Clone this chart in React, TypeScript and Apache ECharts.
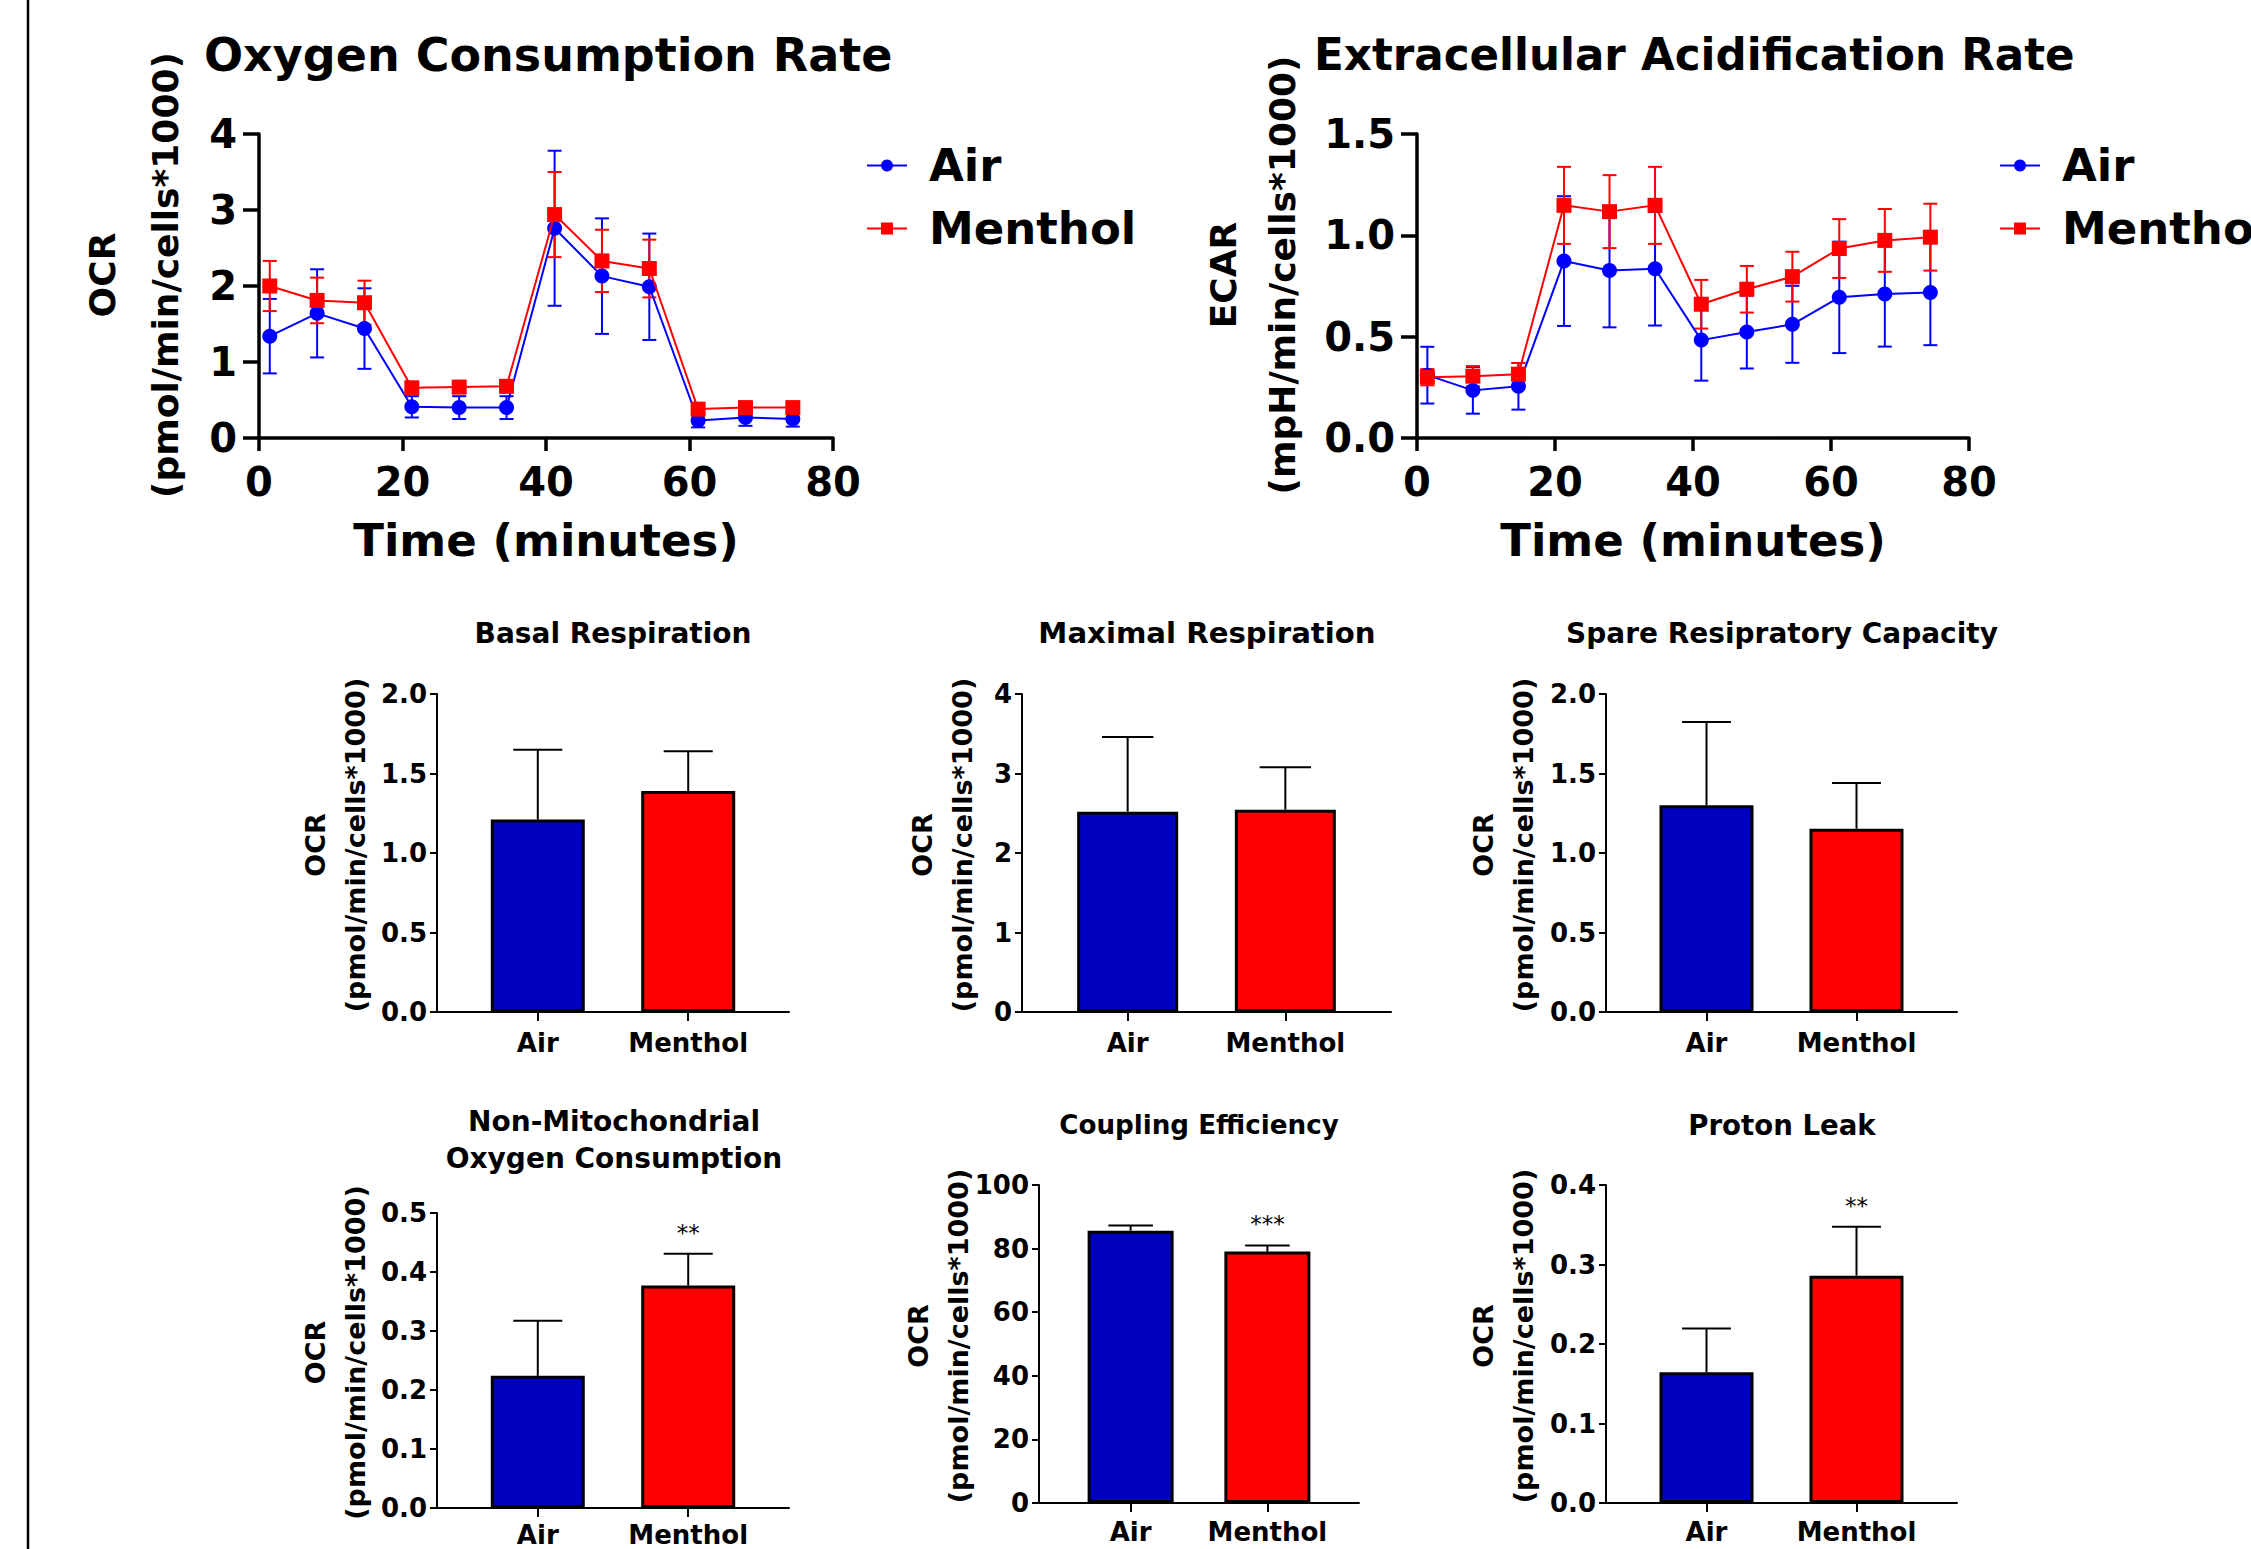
import React, { useEffect, useRef } from 'react';
import * as echarts from 'echarts';

// ---------- data ----------
const timeMin = [1.5, 8.1, 14.7, 21.3, 27.9, 34.5, 41.2, 47.8, 54.4, 61.2, 67.8, 74.4];

const ocrAir = [1.34, 1.64, 1.44, 0.41, 0.4, 0.4, 2.76, 2.13, 1.99, 0.23, 0.27, 0.25];
const ocrAirSd = [0.49, 0.58, 0.53, 0.14, 0.15, 0.15, 1.02, 0.76, 0.7, 0.09, 0.11, 0.1];
const ocrMenthol = [2.0, 1.81, 1.78, 0.66, 0.67, 0.68, 2.94, 2.33, 2.23, 0.38, 0.4, 0.4];
const ocrMentholSd = [0.33, 0.3, 0.29, 0.08, 0.08, 0.08, 0.56, 0.41, 0.38, 0.05, 0.05, 0.05];

const ecarAir = [0.31, 0.235, 0.255, 0.873, 0.826, 0.835, 0.483, 0.523, 0.561, 0.694, 0.711, 0.718];
const ecarAirSd = [0.14, 0.115, 0.115, 0.32, 0.28, 0.28, 0.2, 0.18, 0.19, 0.275, 0.26, 0.26];
const ecarMenthol = [0.3, 0.305, 0.315, 1.148, 1.117, 1.148, 0.66, 0.734, 0.796, 0.935, 0.975, 0.991];
const ecarMentholSd = [0.04, 0.05, 0.055, 0.19, 0.18, 0.19, 0.12, 0.115, 0.123, 0.145, 0.155, 0.165];

const barCategories = ['Air', 'Menthol'];

const basalMean = [1.21, 1.39];
const basalErr = [0.44, 0.25];
const maximalMean = [2.52, 2.545];
const maximalErr = [0.94, 0.535];
const spareMean = [1.3, 1.153];
const spareErr = [0.524, 0.287];
const nonMitoMean = [0.224, 0.377];
const nonMitoErr = [0.0935, 0.054];
const couplingMean = [85.65, 79.05];
const couplingErr = [1.65, 1.95];
const protonMean = [0.1646, 0.286];
const protonErr = [0.055, 0.0616];

const nonMitoSig = ['', '**'];
const couplingSig = ['', '***'];
const protonSig = ['', '**'];

// ---------- styles ----------
const FONT = 'DejaVu Sans';
const BLUE = '#0000ff';
const RED = '#ff0000';
const BAR_BLUE = '#0000c0';
const BAR_COLORS = [BAR_BLUE, RED];

type Panel = {
  title: string;
  titleX: number;
  titleY: number;
  titleSize: number;
  mean: number[];
  err: number[];
  sig: string[];
  yMax: number;
  yInterval: number;
  decimals: number;
  grid: { left: number; top: number; width: number; height: number };
  nameGap: number;
  barWidth: number;
  labelMargin: number;
};

const panels: Panel[] = [
  {
    title: 'Basal Respiration', titleX: 613, titleY: 633, titleSize: 28,
    mean: basalMean, err: basalErr, sig: ['', ''], yMax: 2, yInterval: 0.5, decimals: 1,
    grid: { left: 437, top: 694, width: 352, height: 318 }, nameGap: 62, barWidth: 94, labelMargin: 18,
  },
  {
    title: 'Maximal Respiration', titleX: 1207, titleY: 633, titleSize: 29.2,
    mean: maximalMean, err: maximalErr, sig: ['', ''], yMax: 4, yInterval: 1, decimals: 0,
    grid: { left: 1022, top: 694, width: 369, height: 318 }, nameGap: 40, barWidth: 101, labelMargin: 18,
  },
  {
    title: 'Spare Resipratory Capacity', titleX: 1782, titleY: 633, titleSize: 28,
    mean: spareMean, err: spareErr, sig: ['', ''], yMax: 2, yInterval: 0.5, decimals: 1,
    grid: { left: 1606, top: 694, width: 351, height: 318 }, nameGap: 63, barWidth: 94, labelMargin: 18,
  },
  {
    title: 'Non-Mitochondrial\nOxygen Consumption', titleX: 614, titleY: 1140, titleSize: 28,
    mean: nonMitoMean, err: nonMitoErr, sig: nonMitoSig, yMax: 0.5, yInterval: 0.1, decimals: 1,
    grid: { left: 437, top: 1213, width: 352, height: 295 }, nameGap: 62, barWidth: 94, labelMargin: 14,
  },
  {
    title: 'Coupling Efficiency', titleX: 1199, titleY: 1125, titleSize: 26.2,
    mean: couplingMean, err: couplingErr, sig: couplingSig, yMax: 100, yInterval: 20, decimals: 0,
    grid: { left: 1039, top: 1185, width: 320, height: 318 }, nameGap: 61, barWidth: 86, labelMargin: 16,
  },
  {
    title: 'Proton Leak', titleX: 1782, titleY: 1125, titleSize: 27.6,
    mean: protonMean, err: protonErr, sig: protonSig, yMax: 0.4, yInterval: 0.1, decimals: 1,
    grid: { left: 1606, top: 1185, width: 351, height: 318 }, nameGap: 63, barWidth: 94, labelMargin: 16,
  },
];

function symErrRender(color: string, cap: number) {
  return (params: any, api: any) => {
    const x = api.value(0);
    const y = api.value(1);
    const e = api.value(2);
    const t = api.coord([x, y + e]);
    const b = api.coord([x, y - e]);
    const st = { stroke: color, lineWidth: 2 };
    return {
      type: 'group',
      children: [
        { type: 'line', shape: { x1: t[0], y1: t[1], x2: b[0], y2: b[1] }, style: st },
        { type: 'line', shape: { x1: t[0] - cap, y1: t[1], x2: t[0] + cap, y2: t[1] }, style: st },
        { type: 'line', shape: { x1: b[0] - cap, y1: b[1], x2: b[0] + cap, y2: b[1] }, style: st },
      ],
    };
  };
}

function barErrRender(cap: number, sig: string[]) {
  return (params: any, api: any) => {
    const x = api.value(0);
    const y = api.value(1);
    const e = api.value(2);
    const base = api.coord([x, y]);
    const t = api.coord([x, y + e]);
    const st = { stroke: '#000', lineWidth: 2 };
    const children: any[] = [
      { type: 'line', shape: { x1: t[0], y1: base[1], x2: t[0], y2: t[1] }, style: st },
      { type: 'line', shape: { x1: t[0] - cap, y1: t[1], x2: t[0] + cap, y2: t[1] }, style: st },
    ];
    const s = sig[params.dataIndex];
    if (s) {
      children.push({
        type: 'text',
        x: t[0],
        y: t[1] - 21,
        style: {
          text: s, fill: '#000', fontSize: 23, fontFamily: FONT,
          align: 'center', verticalAlign: 'middle', textAlign: 'center', textVerticalAlign: 'middle',
        },
      });
    }
    return { type: 'group', children };
  };
}

function buildOption() {
  const grids: any[] = [];
  const xAxes: any[] = [];
  const yAxes: any[] = [];
  const series: any[] = [];
  const graphics: any[] = [];

  // ---------- top time-course charts ----------
  const topAxisLine = { show: true, lineStyle: { color: '#000', width: 3.5 } };
  const topDefs = [
    {
      grid: { left: 259, top: 134, width: 574, height: 304 },
      yMax: 4, yInt: 1, dec: 0, yName: 'OCR\n(pmol/min/cells*1000)', yGap: 62, yLineH: 63,
      air: ocrAir, airSd: ocrAirSd, men: ocrMenthol, menSd: ocrMentholSd,
      title: 'Oxygen Consumption Rate', titleX: 204, titleSize: 46,
    },
    {
      grid: { left: 1417, top: 134, width: 552, height: 304 },
      yMax: 1.5, yInt: 0.5, dec: 1, yName: 'ECAR\n(mpH/min/cells*1000)', yGap: 105, yLineH: 59,
      air: ecarAir, airSd: ecarAirSd, men: ecarMenthol, menSd: ecarMentholSd,
      title: 'Extracellular Acidification Rate', titleX: 1314, titleSize: 43.6,
    },
  ];

  topDefs.forEach((d, i) => {
    grids.push({ ...d.grid, containLabel: false });
    xAxes.push({
      type: 'value', gridIndex: i, min: 0, max: 80, interval: 20,
      axisLine: topAxisLine,
      axisTick: { show: true, length: 13, lineStyle: { color: '#000', width: 3.5 } },
      axisLabel: { margin: 24, fontSize: 40, fontWeight: 'bold', fontFamily: FONT, color: '#000' },
      splitLine: { show: false },
      name: 'Time (minutes)', nameLocation: 'middle', nameGap: 80, nameMoveOverlap: false,
      nameTextStyle: { fontSize: 45, fontWeight: 'bold', fontFamily: FONT, color: '#000' },
    });
    yAxes.push({
      type: 'value', gridIndex: i, min: 0, max: d.yMax, interval: d.yInt,
      axisLine: { ...topAxisLine, onZero: false },
      axisTick: { show: true, length: 16, lineStyle: { color: '#000', width: 3.5 } },
      axisLabel: {
        margin: 22, fontSize: 40, fontWeight: 'bold', fontFamily: FONT, color: '#000',
        formatter: (v: number) => v.toFixed(d.dec),
      },
      splitLine: { show: false },
      name: d.yName, nameLocation: 'middle', nameGap: d.yGap, nameRotate: 90, nameMoveOverlap: false,
      nameTextStyle: {
        fontSize: 36, fontWeight: 'bold', fontFamily: FONT, color: '#000', lineHeight: d.yLineH,
        padding: [0, 0, 0, 22],
      },
    });
    const pairs = (vals: number[], sd: number[]) => timeMin.map((t, k) => [t, vals[k], sd[k]]);
    series.push({
      type: 'custom', name: 'Air SD ' + i, xAxisIndex: i, yAxisIndex: i, z: 2,
      renderItem: symErrRender(BLUE, 7), encode: { x: 0, y: 1 },
      data: pairs(d.air, d.airSd), silent: true,
    });
    series.push({
      type: 'custom', name: 'Menthol SD ' + i, xAxisIndex: i, yAxisIndex: i, z: 2,
      renderItem: symErrRender(RED, 7), encode: { x: 0, y: 1 },
      data: pairs(d.men, d.menSd), silent: true,
    });
    series.push({
      type: 'line', name: 'Air', xAxisIndex: i, yAxisIndex: i, z: 3,
      data: timeMin.map((t, k) => [t, d.air[k]]),
      symbol: 'circle', symbolSize: 15,
      lineStyle: { color: BLUE, width: 2 }, itemStyle: { color: BLUE },
    });
    series.push({
      type: 'line', name: 'Menthol', xAxisIndex: i, yAxisIndex: i, z: 4,
      data: timeMin.map((t, k) => [t, d.men[k]]),
      symbol: 'rect', symbolSize: 15,
      lineStyle: { color: RED, width: 2 }, itemStyle: { color: RED },
    });
    graphics.push({
      type: 'text', x: d.titleX, y: 55,
      style: {
        text: d.title, fill: '#000', fontSize: d.titleSize, fontWeight: 'bold', fontFamily: FONT,
        align: 'left', verticalAlign: 'middle', textAlign: 'left', textVerticalAlign: 'middle',
      },
    });
  });

  // ---------- bar panels ----------
  panels.forEach((p, j) => {
    const gi = j + 2;
    const spacing = p.grid.width / 2.34;
    grids.push({ ...p.grid, containLabel: false });
    xAxes.push({
      type: 'value', gridIndex: gi, min: 0.33, max: 2.67,
      axisLine: { show: true, onZero: false, lineStyle: { color: '#000', width: 2 } },
      axisTick: { show: true, length: 9, customValues: [1, 2], lineStyle: { color: '#000', width: 2 } },
      axisLabel: {
        show: true, customValues: [1, 2], margin: p.labelMargin,
        fontSize: 26, fontWeight: 'bold', fontFamily: FONT, color: '#000',
        formatter: (v: number) => barCategories[Math.round(v) - 1] || '',
      },
      splitLine: { show: false },
    });
    yAxes.push({
      type: 'value', gridIndex: gi, min: 0, max: p.yMax, interval: p.yInterval,
      axisLine: { show: true, onZero: false, lineStyle: { color: '#000', width: 2 } },
      axisTick: { show: true, length: 7, lineStyle: { color: '#000', width: 2 } },
      axisLabel: {
        margin: 10, fontSize: 26, fontWeight: 'bold', fontFamily: FONT, color: '#000',
        formatter: (v: number) => v.toFixed(p.decimals),
      },
      splitLine: { show: false },
      name: 'OCR\n(pmol/min/cells*1000)', nameLocation: 'middle', nameGap: p.nameGap, nameRotate: 90,
      nameMoveOverlap: false,
      nameTextStyle: {
        fontSize: 27, fontWeight: 'bold', fontFamily: FONT, color: '#000', lineHeight: 40,
        padding: [0, 0, 0, 16],
      },
    });
    series.push({
      type: 'bar', name: p.title + ' bars', xAxisIndex: gi, yAxisIndex: gi, z: 2,
      barWidth: p.barWidth,
      itemStyle: { borderColor: '#000', borderWidth: 3 },
      data: p.mean.map((m, k) => ({ value: [k + 1, m], itemStyle: { color: BAR_COLORS[k] } })),
    });
    series.push({
      type: 'custom', name: p.title + ' err', xAxisIndex: gi, yAxisIndex: gi, z: 3,
      renderItem: barErrRender(spacing * 0.163, p.sig), encode: { x: 0, y: 1 },
      data: p.mean.map((m, k) => [k + 1, m, p.err[k]]), silent: true,
    });
    graphics.push({
      type: 'text', x: p.titleX, y: p.titleY,
      style: {
        text: p.title, fill: '#000', fontSize: p.titleSize, fontWeight: 'bold', fontFamily: FONT,
        lineHeight: 37,
        align: 'center', verticalAlign: 'middle', textAlign: 'center', textVerticalAlign: 'middle',
      },
    });
  });

  // left border line of the figure
  graphics.push({
    type: 'line', shape: { x1: 28, y1: 0, x2: 28, y2: 1549 },
    style: { stroke: '#000', lineWidth: 2.5 },
  });

  const legendBase = {
    orient: 'vertical', itemGap: 18, itemWidth: 40, itemHeight: 15, selectedMode: false,
    data: ['Air', 'Menthol'],
    textStyle: { fontSize: 45, fontWeight: 'bold', fontFamily: FONT, color: '#000', padding: [0, 0, 0, 17] },
  };

  return {
    animation: false,
    backgroundColor: '#fff',
    textStyle: { fontFamily: FONT },
    grid: grids,
    xAxis: xAxes,
    yAxis: yAxes,
    series,
    legend: [
      { ...legendBase, left: 861, top: 138 },
      { ...legendBase, left: 1994, top: 138 },
    ],
    graphic: graphics,
  };
}

export default function App() {
  const ref = useRef<HTMLDivElement>(null);
  useEffect(() => {
    if (!ref.current) return;
    const chart = echarts.init(ref.current, undefined, { renderer: 'svg' });
    chart.setOption(buildOption() as any);
    return () => chart.dispose();
  }, []);
  return (
    <div
      ref={ref}
      style={{ position: 'absolute', left: 0, top: 0, width: 2251, height: 1549, background: '#fff' }}
    />
  );
}
